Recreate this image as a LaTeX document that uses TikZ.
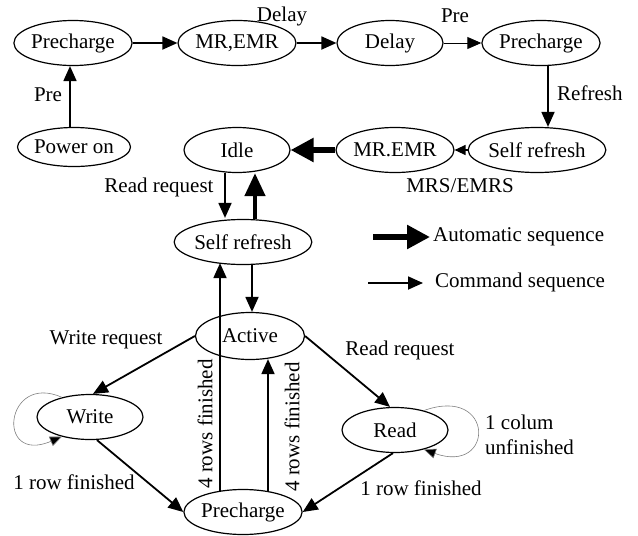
\documentclass[tikz,border=0pt]{standalone}
\usepackage{fontspec}
\setmainfont{Liberation Serif}
\usetikzlibrary{arrows.meta,shapes.geometric,calc}
\begin{document}
\begin{tikzpicture}[x=1pt,y=-1pt,
 st/.style={ellipse,draw,line width=1.2pt,minimum width=106pt,minimum height=45pt,inner sep=0pt,font=\fontsize{21}{25}\selectfont},
 lbl/.style={font=\fontsize{21}{25}\selectfont,inner sep=0pt},
 cmd/.style={line width=1.8pt,-{Triangle[length=15pt,width=13pt]}},
 thinarr/.style={line width=0.9pt,-{Triangle[length=14pt,width=12pt]}},
 autoarr/.style={line width=5.5pt,-{Triangle[length=23pt,width=23pt]}},
 selfloop/.style={line width=0.6pt,draw=gray,-{Triangle[length=12pt,width=10pt,fill=black]}}]
\useasboundingbox (0,0) rectangle (638,536);
% states
\node[st] (pc1) at (73,43) {Precharge};
\node[st] (mr1) at (237,43) {MR,EMR};
\node[st] (dly) at (390,43) {Delay};
\node[st] (pc2) at (541,43) {Precharge};
\node[st,minimum height=39pt] (pwr) at (74,147) {Power on};
\node[st,minimum width=123pt] (sr1) at (537,150) {Self refresh};
\node[st] (mr2) at (395,150) {MR.EMR};
\node[st] (idle) at (237,150) {Idle};
\node[st] (sr2) at (243,242) {Self refresh};
\node[st,minimum width=109pt,minimum height=47pt] (act) at (250,336) {Active};
\node[st] (wr) at (90,417) {Write};
\node[st] (rd) at (395,430) {Read};
\node[st] (pc3) at (243,512) {Precharge};
% top chain
\draw[cmd] ([xshift=-4pt]pwr.north) -- ([xshift=-3pt]pc1.south);
\node[lbl] (lpre1) at (48,95) {Pre};
\draw[cmd] (pc1) -- (mr1);
\draw[cmd] (mr1) -- (dly);
\node[lbl] (ldly) at (282,16) {Delay};
\draw[thinarr] (dly) -- (pc2);
\node[lbl] (lpre2) at (455,16) {Pre};
\draw[cmd] ([xshift=7pt]pc2.south) -- ([xshift=11pt]sr1.north);
\node[lbl,anchor=west] (lref) at (557,93) {Refresh};
\draw[line width=1.3pt,-{Triangle[length=11pt,width=10pt]}] (sr1) -- (mr2);
\node[lbl] (lmrs) at (460,186) {MRS/EMRS};
\draw[autoarr] (mr2) -- (idle);
% idle / self refresh
\draw[cmd] ([xshift=-12pt]idle.south) -- ([xshift=-18pt,yshift=1pt]sr2.north);
\node[lbl] (lrr1) at (159,187) {Read request};
\draw[autoarr,line width=4.5pt,-{Triangle[length=23pt,width=20pt]}] ([xshift=12pt]sr2.north) -- ([xshift=18pt]idle.south);
\draw[cmd] ([xshift=9pt]sr2.south) -- ([xshift=2pt]act.north);
% active branches
\draw[cmd] (act.west) -- ([xshift=3pt]wr.north);
\node[lbl] (lwr) at (106,340) {Write request};
\draw[cmd] ([xshift=7pt]wr.south) -- (pc3.west);
\node[lbl] (lrf1) at (74,482) {1 row finished};
\draw[cmd] (act.east) -- ([xshift=-5pt]rd.north);
\node[lbl] (lrr2) at (400,350) {Read request};
\draw[cmd] ([xshift=-2pt]rd.south) -- (pc3.east);
\node[lbl] (lrf2) at (421,488) {1 row finished};
% precharge returns
\draw[cmd] ([xshift=-23pt,yshift=-2pt]pc3.north) -- ([xshift=-23pt,yshift=2pt]sr2.south);
\node[lbl,rotate=90] (l4a) at (205,424) {4 rows finished};
\draw[cmd] ([xshift=25pt,yshift=-2pt]pc3.north) -- ([xshift=18pt,yshift=1pt]act.south);
\node[lbl,rotate=90] (l4b) at (292,427) {4 rows finished};
% self loops
\draw[selfloop] (wr.145) .. controls (5,372) and (-5,465) .. (wr.215);
\draw[selfloop] (rd.34) .. controls (495,385) and (495,475) .. (rd.-34);
\node[lbl,anchor=west,align=left] (lcol) at (485,435) {1 colum\\unfinished};
% legend
\coordinate (la1) at (373,237);
\coordinate (la2) at (430,237);
\draw[autoarr] (la1) -- (la2);
\node[lbl,anchor=west] (lauto) at (433,237) {Automatic sequence};
\coordinate (lc1) at (368,283);
\coordinate (lc2) at (423,283);
\draw[cmd] (lc1) -- (lc2);
\node[lbl,anchor=west] (lcmd) at (435,282) {Command sequence};
\end{tikzpicture}
\end{document}
